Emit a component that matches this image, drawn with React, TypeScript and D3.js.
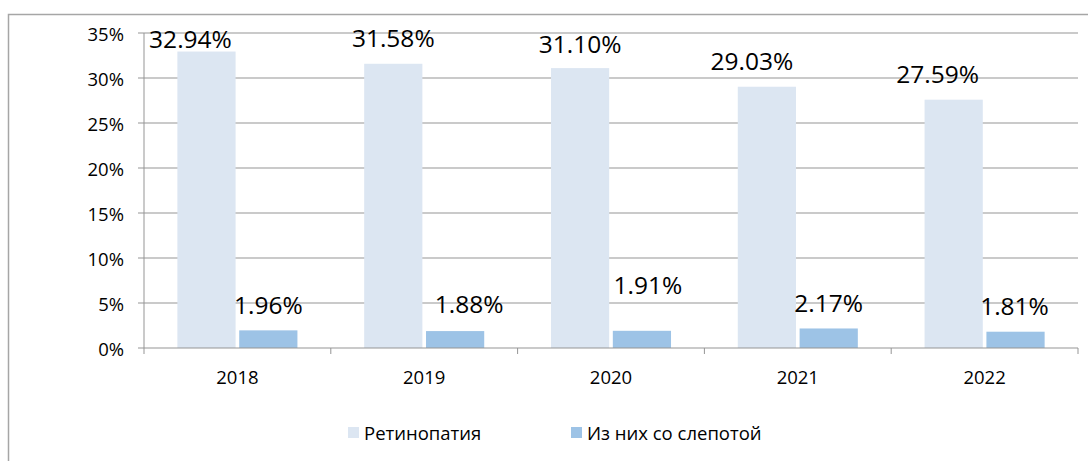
import React from "react";
import * as d3 from "d3";

const categories = ["2018", "2019", "2020", "2021", "2022"];
const retinopathy = [32.94, 31.58, 31.1, 29.03, 27.59];
const blindness = [1.96, 1.88, 1.91, 2.17, 1.81];
const seriesNames = ["Ретинопатия", "Из них со слепотой"];
const yTicks = [0, 5, 10, 15, 20, 25, 30, 35];

// label nudges (pixels), presentation only
const retLabelDx = [-16, 0, 0, -15, -16];
const retLabelDy = [12.5, 0, 1, 0, 0];
const blindLabelDx = [0, 14, 6, 0, -1];
const blindLabelDy = [0, -2, -20, 0, 0];

const W = 1088;
const H = 461;
const FONT = "'Open Sans', 'Noto Sans', sans-serif";
const LIGHT = "#dce6f2";
const DARK = "#9dc3e6";
const GRID = "#959595";

export default function App() {
  const left = 144;
  const right = 1078;
  const top = 33;
  const bottom = 348;

  const x = d3.scaleBand<string>().domain(categories).range([left, right]).padding(0);
  const bw = x.bandwidth();
  const inner = d3
    .scaleBand<number>()
    .domain([0, 1])
    .range([0, bw])
    .paddingInner(7 / 119)
    .paddingOuter(34 / 63);
  const y = d3.scaleLinear().domain([0, 35]).range([bottom, top]);

  const fmt = (v: number) => v.toFixed(2) + "%";
  const boundaries = categories.map((c) => x(c)!).concat([right]);

  return (
    <svg
      width={W}
      height={H}
      style={{ position: "absolute", left: 0, top: 0, display: "block", background: "#fff" }}
      fontFamily={FONT}
    >
      <rect x={8.5} y={14.5} width={1200} height={600} fill="#fff" stroke="#a6a6a6" strokeWidth={1.5} />

      {yTicks.map((t) => (
        <g key={t}>
          {t > 0 && <line x1={left} x2={right} y1={y(t)} y2={y(t)} stroke={GRID} strokeWidth={1} />}
          <line x1={left - 6} x2={left} y1={y(t)} y2={y(t)} stroke={GRID} strokeWidth={1} />
          <text x={124} y={y(t)} textAnchor="end" dominantBaseline="central" fontSize={18.5} fill="#000">
            {t + "%"}
          </text>
        </g>
      ))}

      {categories.map((c, i) => {
        const x0 = x(c)!;
        return (
          <g key={c}>
            <rect
              x={x0 + inner(0)!}
              y={y(retinopathy[i])}
              width={inner.bandwidth()}
              height={y(0) - y(retinopathy[i])}
              fill={LIGHT}
            />
            <rect
              x={x0 + inner(1)!}
              y={y(blindness[i])}
              width={inner.bandwidth()}
              height={y(0) - y(blindness[i])}
              fill={DARK}
            />
          </g>
        );
      })}

      <line x1={left} x2={left} y1={top} y2={bottom} stroke={GRID} strokeWidth={1} />
      <line x1={left} x2={right} y1={bottom} y2={bottom} stroke={GRID} strokeWidth={1} />
      {boundaries.map((b, i) => (
        <line key={i} x1={b} x2={b} y1={bottom} y2={bottom + 6} stroke={GRID} strokeWidth={1} />
      ))}

      {categories.map((c) => (
        <text
          key={c}
          x={x(c)! + bw / 2}
          y={376}
          textAnchor="middle"
          dominantBaseline="central"
          fontSize={18.5}
          fill="#000"
        >
          {c}
        </text>
      ))}

      {categories.map((c, i) => {
        const x0 = x(c)!;
        const cx1 = x0 + inner(0)! + inner.bandwidth() / 2;
        const cx2 = x0 + inner(1)! + inner.bandwidth() / 2;
        return (
          <g key={"l" + c}>
            <text
              x={cx1 + retLabelDx[i]}
              y={y(retinopathy[i]) - 26 + retLabelDy[i]}
              textAnchor="middle"
              dominantBaseline="central"
              fontSize={24.5}
              fill="#000"
            >
              {fmt(retinopathy[i])}
            </text>
            <text
              x={cx2 + blindLabelDx[i]}
              y={y(blindness[i]) - 26 + blindLabelDy[i]}
              textAnchor="middle"
              dominantBaseline="central"
              fontSize={24.5}
              fill="#000"
            >
              {fmt(blindness[i])}
            </text>
          </g>
        );
      })}

      <g>
        <rect x={348} y={427} width={11} height={11} fill={LIGHT} />
        <text x={364} y={432.5} dominantBaseline="central" fontSize={18.5} fill="#000">
          {seriesNames[0]}
        </text>
        <rect x={571} y={427} width={11} height={11} fill={DARK} />
        <text x={587} y={432.5} dominantBaseline="central" fontSize={18.5} fill="#000">
          {seriesNames[1]}
        </text>
      </g>
    </svg>
  );
}
